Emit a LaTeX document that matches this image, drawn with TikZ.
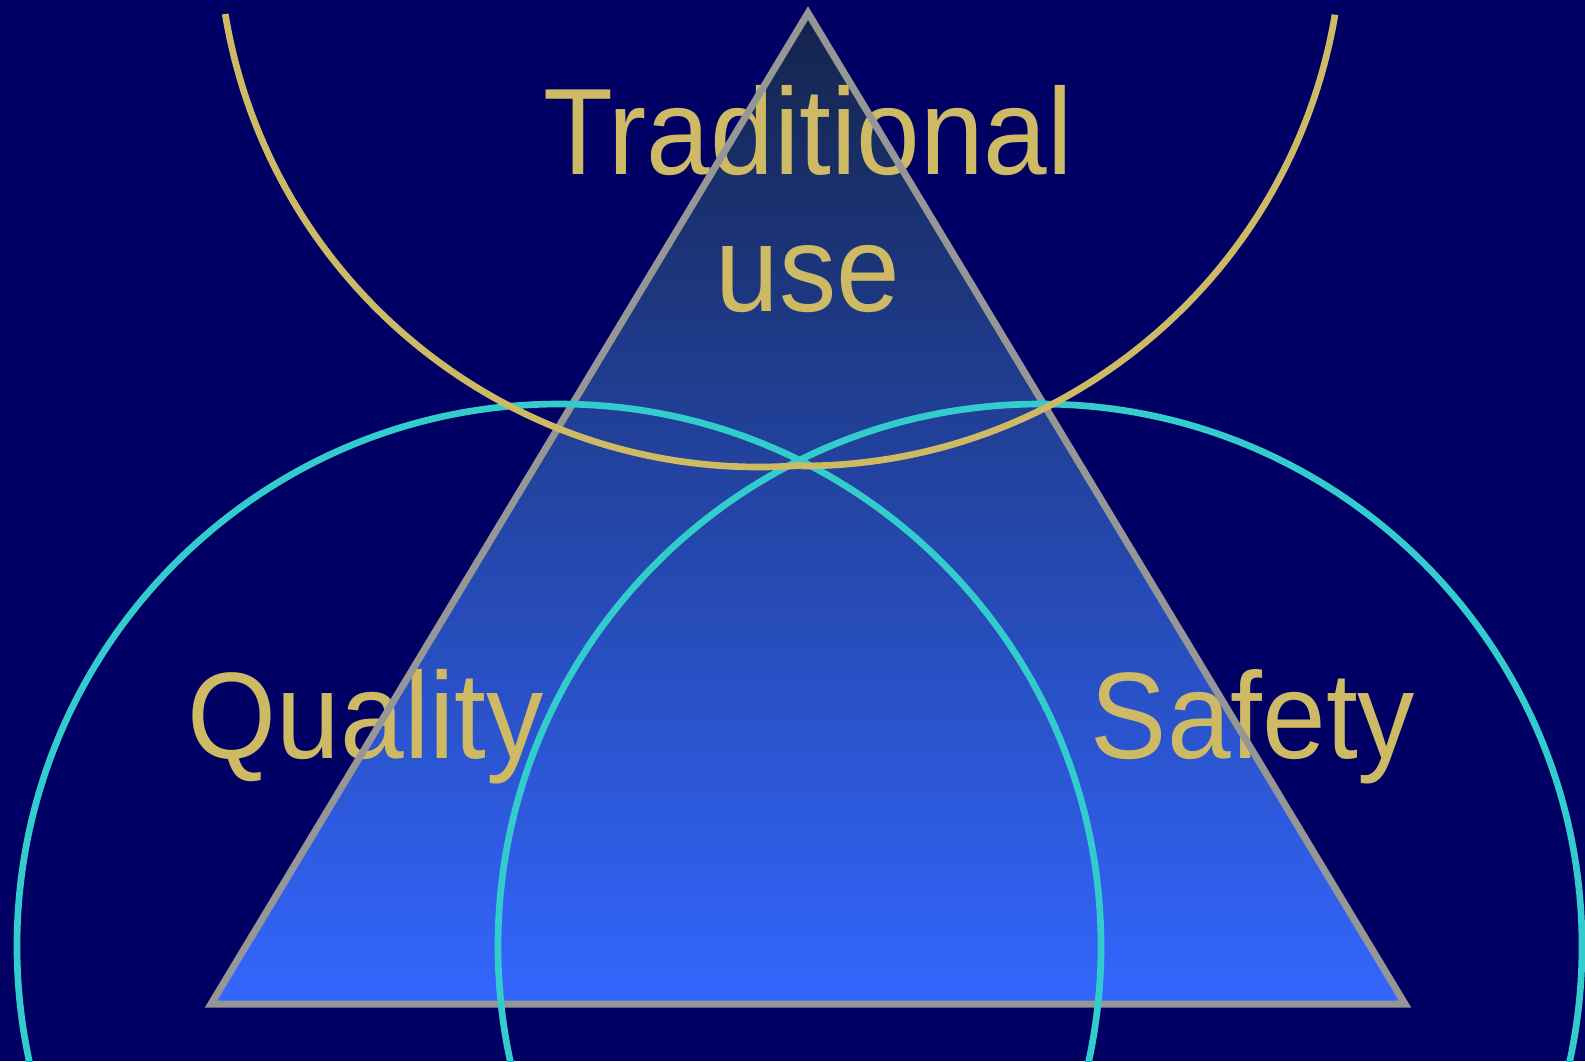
\documentclass[tikz,border=0pt]{standalone}
\usepackage{fontspec}
\newfontfamily\labelfont{Liberation Sans}[FakeStretch=0.93]
\definecolor{navyBG}{RGB}{0,0,100}
\definecolor{goldTXT}{RGB}{206,185,100}
\definecolor{cyanRING}{RGB}{51,204,204}
\definecolor{greyEDGE}{RGB}{150,150,150}
\definecolor{triTOP}{RGB}{20,36,76}
\definecolor{triMID}{RGB}{37,73,185}
\definecolor{triBOT}{RGB}{51,102,255}

\begin{document}
\begin{tikzpicture}
      \tikzstyle{LBL} = [text=goldTXT, font=\labelfont\fontsize{35}{41}\selectfont, inner sep=0pt, anchor=base]
      \tikzstyle{RING} = [draw=cyanRING, line width=1.9pt]
      \tikzstyle{ARC} = [draw=goldTXT, line width=1.9pt]

      %%%%% BACKGROUND
      \fill[navyBG] (0,0) rectangle (15.85,-10.61);
      \useasboundingbox (0,0) rectangle (15.85,-10.61);
      \clip (0,0) rectangle (15.85,-10.61);

      %%%%% TRIANGLE
      \coordinate (apex) at (8.08,-0.13);
      \coordinate (bl) at (2.11,-10.04);
      \coordinate (br) at (14.05,-10.04);
      \shade[top color=triTOP, middle color=triMID, bottom color=triBOT] (apex) -- (br) -- (bl) -- cycle;

      %%%%% LABELS
      \node[LBL](trad) at (8.08,-1.74) {Traditional};
      \node[LBL](use) at (8.08,-3.11) {use};
      \node[LBL](qual) at (3.66,-7.58) {Quality};
      \node[LBL](safe) at (12.53,-7.58) {Safety};

      \draw[greyEDGE, line width=2pt] (apex) -- (br) -- (bl) -- cycle;

      %%%%% RINGS
      \draw[RING] (5.59,-9.46) circle (5.42);
      \draw[RING] (10.40,-9.46) circle (5.42);

      %%%%% ARCS
      \draw[ARC] (7.59,0.74) ++(189.36:5.41) arc (189.36:274.45:5.41);
      \draw[ARC] (8.01,0.756) ++(270:5.416) arc (270:350.4:5.416);
\end{tikzpicture}
\end{document}
